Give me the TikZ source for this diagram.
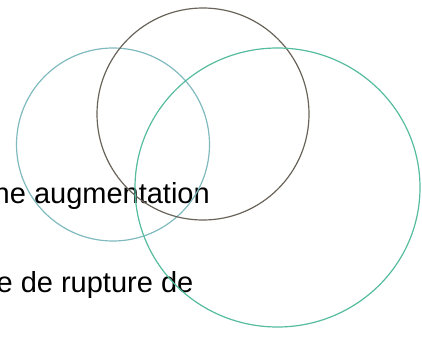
\documentclass[tikz,border=0pt]{standalone}
\usepackage{fontspec}
\setmainfont{Liberation Sans}
\usetikzlibrary{shapes.geometric}
\definecolor{cLeft}{RGB}{128,186,190}
\definecolor{cDark}{RGB}{105,100,90}
\definecolor{cBig}{RGB}{85,188,158}
\tikzset{
  ring/.style={draw, line width=1.2pt, inner sep=0pt, fill=none},
  lbl/.style={inner sep=0pt, font=\fontsize{29}{34}\selectfont, text=black}
}
\begin{document}
\begin{tikzpicture}[x=1pt,y=-1pt]
\useasboundingbox (0,0) rectangle (422,337);
\node[lbl, anchor=base east] (t1) at (210,203) {ne augmentation};
\node[lbl, anchor=base east] (t2) at (193.5,292) {e de rupture de};
\node[ring, circle, draw=cLeft, minimum size=193pt] (c1) at (113,144.5) {};
\node[ring, circle, draw=cDark, minimum size=212pt] (c2) at (203,114) {};
\node[ring, ellipse, draw=cBig, minimum width=285pt, minimum height=279pt] (c3) at (277.5,187.5) {};
\end{tikzpicture}
\end{document}
